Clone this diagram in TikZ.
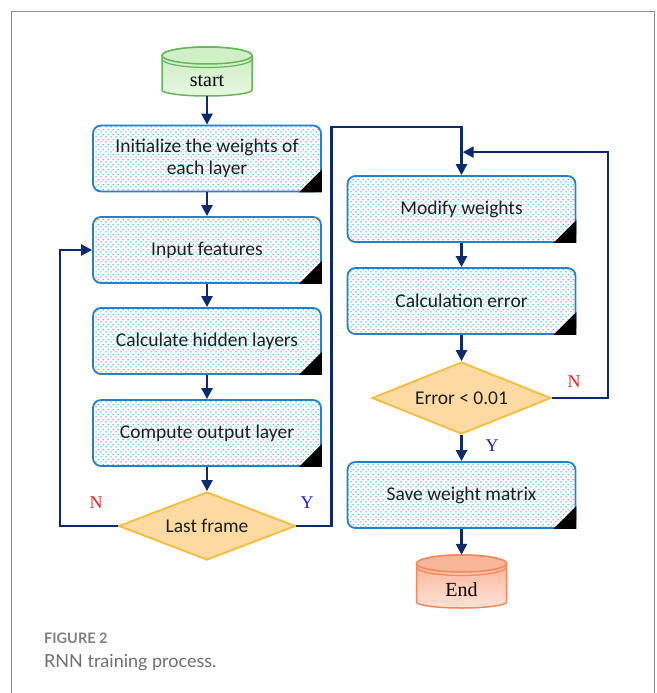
\documentclass[tikz,border=0pt]{standalone}
\usepackage{fontspec}
\setmainfont{Liberation Serif}
\newfontfamily\boxfont{Carlito}
\newfontfamily\capfont{Lato}
\usetikzlibrary{arrows.meta,shapes.geometric,patterns.meta}

\definecolor{navy}{RGB}{12,42,110}
\definecolor{boxblue}{RGB}{35,128,205}
\definecolor{dotblue}{RGB}{45,178,232}
\definecolor{dmdline}{RGB}{247,188,55}
\definecolor{dmdfill}{RGB}{253,218,162}
\definecolor{greenrim}{RGB}{100,182,88}
\definecolor{greentop}{RGB}{200,236,190}
\definecolor{greenlow}{RGB}{232,247,226}
\definecolor{greencap}{RGB}{210,240,200}
\definecolor{redrim}{RGB}{244,136,88}
\definecolor{redtop}{RGB}{250,172,142}
\definecolor{redlow}{RGB}{253,226,214}
\definecolor{redcap}{RGB}{250,182,155}
\definecolor{nored}{RGB}{238,30,36}
\definecolor{yesblue}{RGB}{30,30,215}
\definecolor{framegray}{RGB}{140,140,140}
\definecolor{capgray}{RGB}{110,110,110}
\definecolor{capgraylight}{RGB}{128,128,128}

% staggered dot tiling used inside the process boxes
\tikzdeclarepattern{
  name=bluedots,
  type=uncolored,
  bottom left={(0pt,0pt)},
  top right={(5pt,5pt)},
  tile size={(5pt,5pt)},
  code={
    \pgfpathcircle{\pgfpoint{1.25pt}{1.25pt}}{0.9pt}
    \pgfpathcircle{\pgfpoint{3.75pt}{3.75pt}}{0.9pt}
    \pgfusepath{fill}
  }
}

% drum-shaped terminal: #1 centre x, #2 lid centre y, #3 base y,
% #4/#5 body shading, #6 rim colour, #7 lid fill
\newcommand\drum[7]{%
  \path[draw=#6, line width=1.5pt, top color=#4, bottom color=#5]
    (#1-45,#2) -- (#1-45,#3)
    arc[start angle=180, end angle=360, x radius=45pt, y radius=6pt]
    -- (#1+45,#2)
    arc[start angle=0, end angle=180, x radius=45pt, y radius=8.5pt] -- cycle;
  \draw[draw=#6, line width=1.5pt, fill=#7] (#1,#2) ellipse[x radius=45pt, y radius=8.5pt];
  \draw[draw=#6, line width=1.2pt] (#1-45,#2+3.5)
    arc[start angle=180, end angle=360, x radius=45pt, y radius=8.5pt];
}

\tikzset{
  flow/.style={draw=navy, line width=2.5pt, -{Triangle[length=11pt,width=11pt]}},
  stepbox/.style={rectangle, rounded corners=8pt, draw=boxblue, line width=1.8pt,
    pattern=bluedots, pattern color=dotblue,
    minimum width=228pt, minimum height=66pt, inner sep=2pt, align=center,
    text=black!88, font=\boxfont\fontsize{19.5}{21.5}\selectfont},
  decision/.style={diamond, aspect=2.6, draw=dmdline, fill=dmdfill, line width=1.8pt,
    inner sep=0pt, text=black!88, font=\boxfont\fontsize{19.5}{21.5}\selectfont},
  terminal/.style={rectangle, minimum width=90pt, inner sep=0pt},
  termtext/.style={font=\fontsize{20}{20}\selectfont, text=black},
  nlab/.style={text=nored, font=\fontsize{18}{18}\selectfont},
  ylab/.style={text=yesblue, font=\fontsize{18}{18}\selectfont},
  corner/.style={fill=black}
}

\begin{document}
\begin{tikzpicture}[x=1pt,y=-1pt]
\useasboundingbox (0,0) rectangle (656,693);

% panel frame, open at the bottom
\draw[framegray, line width=1pt] (11,693) -- (11,12) -- (654,12) -- (654,693);

% terminals
\drum{207}{55.5}{90}{greentop}{greenlow}{greenrim}{greencap}
\node[terminal, minimum height=49pt] (start) at (207,71.5) {};
\node[termtext] at ([yshift=-9.5pt]start.center) {start};

\drum{461.5}{563.5}{602}{redtop}{redlow}{redrim}{redcap}
\node[terminal, minimum height=53pt] (stop) at (461.5,581.5) {};
\node[termtext] at ([yshift=-8.5pt]stop.center) {End};

% left column
\node[stepbox] (b1) at (207,158.5) {Initialize the weights of\\each layer};
\node[stepbox] (b2) at (207,250) {Input features};
\node[stepbox] (b3) at (207,341) {Calculate hidden layers};
\node[stepbox] (b4) at (207,433) {Compute output layer};
\node[decision, minimum width=177pt, minimum height=68pt] (d1) at (207,526) {Last frame};

% right column
\node[stepbox] (b5) at (461.5,209) {Modify weights};
\node[stepbox] (b6) at (461.5,301) {Calculation error};
\node[decision, minimum width=179pt, minimum height=72pt] (d2) at (461.5,398) {Error < 0.01};
\node[stepbox] (b7) at (461.5,495) {Save weight matrix};

% folded corners
\foreach \b in {b1,b2,b3,b4,b5,b6,b7}
  \fill[corner] (\b.south east) -- ++(-23pt,0pt) -- ++(23pt,23pt) -- cycle;

% main flow
\draw[flow] (start.south) -- (b1.north);
\draw[flow] (b1.south) -- (b2.north);
\draw[flow] (b2.south) -- (b3.north);
\draw[flow] (b3.south) -- (b4.north);
\draw[flow] (b4.south) -- (d1.north);
\draw[flow] (d1.west) -| ([xshift=-32pt]b2.west) -- (b2.west);
\draw[flow] (d1.east) -- ++(35,0) |- ([yshift=48pt]b5.north) -- (b5.north);
\draw[flow] (b5.south) -- (b6.north);
\draw[flow] (b6.south) -- (d2.north);
\draw[flow] (d2.east) -- ++(56,0) |- ([xshift=1.2pt,yshift=23pt]b5.north);
\draw[flow] (d2.south) -- (b7.north);
\draw[flow] (b7.south) -- (stop.north);

% branch labels
\node[nlab] at (96,503) {N};
\node[ylab] at (307,503) {Y};
\node[nlab] at (574,382) {N};
\node[ylab] at (492,446) {Y};

% caption
\node[anchor=base west, inner sep=0pt, text=capgraylight,
      font=\capfont\bfseries\fontsize{14.5}{14.5}\selectfont] (cap) at (44,643) {FIGURE 2};
\node[anchor=base west, inner sep=0pt, text=capgray,
      font=\capfont\fontsize{18}{18}\selectfont] (captxt) at (44,667) {RNN training process.};
\end{tikzpicture}
\end{document}
